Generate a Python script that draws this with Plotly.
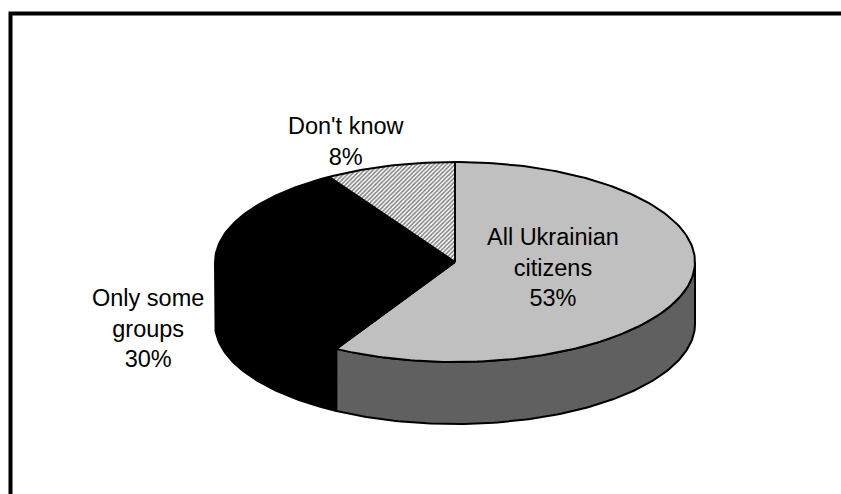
import numpy as np
import plotly.graph_objects as go

# Survey answers, drawn clockwise from 12 o'clock
categories = ["All Ukrainian citizens", "Only some groups", "Don't know"]
values = [53, 30, 8]
label_lines = ["All Ukrainian<br>citizens", "Only some<br>groups", "Don't know"]

W, H = 841, 494
CX, CY = 455, 262      # centre of the pie's top face (pixels)
RX, RY = 240, 100      # radii of the tilted top face
DEPTH = 62             # thickness of the pie

top_colors = ["#c0c0c0", "#000000", "#ffffff"]
side_colors = ["#606060", "#000000", "#808080"]
label_pos = [(553, 267), (148, 328), (346, 141)]
FONT = "Liberation Sans, Arial, sans-serif"


def arc(t0, t1, dy=0.0):
    n = max(int(abs(t1 - t0) / 1.0) + 2, 3)
    t = np.radians(np.linspace(t0, t1, n))
    return CX + RX * np.cos(t), CY - RY * np.sin(t) + dy


total = float(sum(values))
bounds = [90.0]
for v in values:
    bounds.append(bounds[-1] - 360.0 * v / total)

fig = go.Figure()

# Front walls: only the part of each slice lying on the lower half of the rim
for i, v in enumerate(values):
    start, end = bounds[i], bounds[i + 1]   # start > end (clockwise)
    for k in (-1, 0, 1):
        lo, hi = -180.0 + 360 * k, 0.0 + 360 * k
        a, b = max(end, lo), min(start, hi)
        if b - a <= 0.01:
            continue
        xt, yt = arc(b, a)
        xb, yb = arc(a, b, DEPTH)
        xs = np.concatenate([xt, xb, xt[:1]])
        ys = np.concatenate([yt, yb, yt[:1]])
        fig.add_trace(go.Scatter(
            x=xs, y=ys, mode="lines", fill="toself",
            fillcolor=side_colors[i], line=dict(color="black", width=2),
            hoverinfo="skip", showlegend=False))

# Top faces of the slices
for i, v in enumerate(values):
    start, end = bounds[i], bounds[i + 1]
    xa, ya = arc(start, end)
    xs = np.concatenate([[CX], xa, [CX]])
    ys = np.concatenate([[CY], ya, [CY]])
    kw = {}
    if i == 2:
        kw["fillpattern"] = dict(shape="/", fgcolor="black", bgcolor="white",
                                 size=3, solidity=0.5)
    fig.add_trace(go.Scatter(
        x=xs, y=ys, mode="lines", fill="toself",
        fillcolor=top_colors[i], line=dict(color="black", width=2),
        hoverinfo="skip", showlegend=False, name=categories[i], **kw))

for (lx, ly), name, v in zip(label_pos, label_lines, values):
    fig.add_annotation(
        x=lx, y=ly, xref="x", yref="y", text=f"{name}<br>{v}%",
        showarrow=False, xanchor="center", yanchor="middle", align="center",
        font=dict(family=FONT, size=23.5, color="black"))

# Chart-area frame
fig.add_shape(type="rect", xref="x", yref="y", x0=10.5, y0=13.5,
              x1=W + 30, y1=H + 30, line=dict(color="black", width=4),
              fillcolor="rgba(0,0,0,0)", layer="above")

fig.update_layout(
    width=W, height=H, autosize=False,
    margin=dict(l=0, r=0, t=0, b=0, pad=0),
    paper_bgcolor="white", plot_bgcolor="white",
    xaxis=dict(range=[0, W], visible=False, fixedrange=True),
    yaxis=dict(range=[H, 0], visible=False, fixedrange=True),
)

fig.write_html("out.html")
